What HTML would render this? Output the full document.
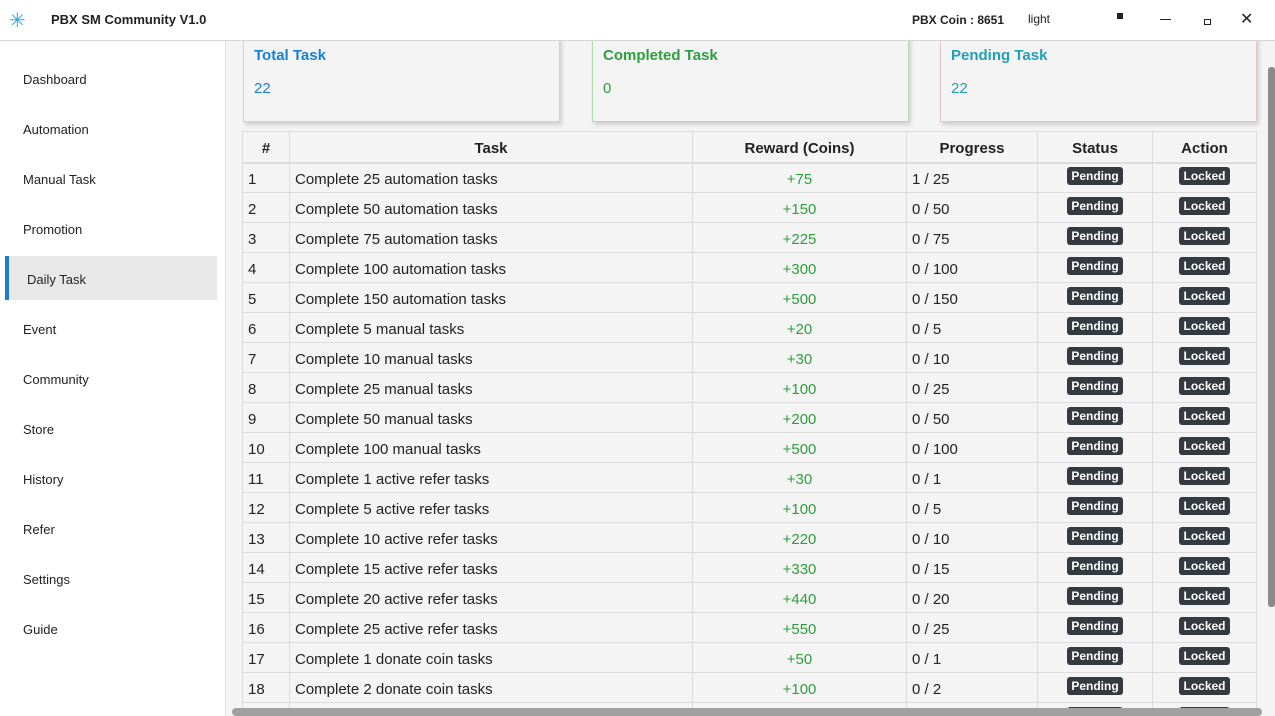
<!DOCTYPE html><html><head><style>
body{margin:0;width:1275px;height:716px;overflow:hidden;font-family:"Liberation Sans","DejaVu Sans",sans-serif;background:#fff;position:relative}
.top{position:absolute;left:0;top:0;width:1275px;height:40px;border-bottom:1px solid #d6d6d6;background:#fff}
.side{position:absolute;left:0;top:41px;width:225px;height:675px;background:#fff;border-right:1px solid #ddd}
.side div{position:absolute;left:23px;font-size:13px;color:#222}
.main{position:absolute;left:226px;top:41px;width:1049px;height:675px;background:#f4f4f4;overflow:hidden}
.card{position:absolute;top:-5px;height:84px;width:315px;background:#f4f4f4;box-shadow:2px 3px 4px rgba(0,0,0,.15)}
.card .h{position:absolute;left:10px;top:10px;font-size:15px;font-weight:bold}
.card .v{position:absolute;left:10px;top:43px;font-size:15px}
table{position:absolute;left:16px;top:90px;border-collapse:collapse;width:1015px;font-size:15px;color:#222}
td,th{border:1px solid #dcdcdc;height:30px;padding:3px 5px 0 5px;box-sizing:border-box}
th{font-weight:bold;border-bottom:2px solid #dcdcdc;height:31px}
.g{color:#2e9e3e;text-align:center}
.b{display:inline-block;background:#343a40;color:#fff;font-size:12px;font-weight:bold;padding:2px 4px;border-radius:3px;position:relative;top:-3px}
.c{text-align:center}
</style></head><body>
<div class="top">
<div style="position:absolute;left:9px;top:8px;font-size:20px;color:#3aa0e8">✳</div>
<div style="position:absolute;left:51px;top:12px;font-size:13px;font-weight:bold;color:#222">PBX SM Community V1.0</div>
<div style="position:absolute;left:912px;top:13px;font-size:12px;font-weight:bold;color:#222">PBX Coin : 8651</div>
<div style="position:absolute;left:1028px;top:12px;font-size:12px;color:#222">light</div>
<div style="position:absolute;left:1117px;top:13px;width:6px;height:6px;background:#222"></div>
<div style="position:absolute;left:1160px;top:19px;width:11px;height:1px;background:#222"></div>
<div style="position:absolute;left:1204px;top:19px;width:5px;height:4px;border:1px solid #222"></div>
<div style="position:absolute;left:1240px;top:9px;font-size:16px;color:#222">✕</div>
</div>
<div class="side">
<div style="top:31px">Dashboard</div><div style="top:81px">Automation</div><div style="top:131px">Manual Task</div><div style="top:181px">Promotion</div>
<span style="position:absolute;left:5px;top:215px;width:212px;height:44px;background:#e8e8e8;border-left:4px solid #1a7fd4;box-sizing:border-box"></span>
<div style="top:231px;left:27px">Daily Task</div><div style="top:281px">Event</div><div style="top:331px">Community</div><div style="top:381px">Store</div><div style="top:431px">History</div><div style="top:481px">Refer</div><div style="top:531px">Settings</div><div style="top:581px">Guide</div>
</div>
<div class="main">
<div class="card" style="left:17px;border:1px solid #b8dbe6"><div class="h" style="color:#1a7fd4">Total Task</div><div class="v" style="color:#1a7fd4">22</div></div>
<div class="card" style="left:366px;border:1px solid #a8e0a8"><div class="h" style="color:#2e9e3e">Completed Task</div><div class="v" style="color:#2e9e3e">0</div></div>
<div class="card" style="left:714px;border:1px solid #f0c0c8"><div class="h" style="color:#1fa0b8">Pending Task</div><div class="v" style="color:#1fa0b8">22</div></div>
<table>
<tr><th style="width:47px">#</th><th style="width:403px">Task</th><th style="width:214px">Reward (Coins)</th><th style="width:131px">Progress</th><th style="width:115px">Status</th><th>Action</th></tr>
<tbody id="tb"></tbody>
</table>
<div style="position:absolute;left:6px;top:667px;width:1030px;height:8px;background:#a0a0a0;border-radius:4px"></div>
<div style="position:absolute;left:1042px;top:26px;width:7px;height:540px;background:#8a8a8a;border-radius:3px"></div>
</div>
<script>
var d=[["Complete 25 automation tasks","+75","1 / 25"],["Complete 50 automation tasks","+150","0 / 50"],["Complete 75 automation tasks","+225","0 / 75"],["Complete 100 automation tasks","+300","0 / 100"],["Complete 150 automation tasks","+500","0 / 150"],["Complete 5 manual tasks","+20","0 / 5"],["Complete 10 manual tasks","+30","0 / 10"],["Complete 25 manual tasks","+100","0 / 25"],["Complete 50 manual tasks","+200","0 / 50"],["Complete 100 manual tasks","+500","0 / 100"],["Complete 1 active refer tasks","+30","0 / 1"],["Complete 5 active refer tasks","+100","0 / 5"],["Complete 10 active refer tasks","+220","0 / 10"],["Complete 15 active refer tasks","+330","0 / 15"],["Complete 20 active refer tasks","+440","0 / 20"],["Complete 25 active refer tasks","+550","0 / 25"],["Complete 1 donate coin tasks","+50","0 / 1"],["Complete 2 donate coin tasks","+100","0 / 2"],["Complete 5 donate coin tasks","+200","0 / 5"]];
var h="";d.forEach(function(r,i){h+='<tr><td>'+(i+1)+'</td><td>'+r[0]+'</td><td class="g">'+r[1]+'</td><td>'+r[2]+'</td><td class="c"><span class="b">Pending</span></td><td class="c"><span class="b">Locked</span></td></tr>'});
document.getElementById("tb").innerHTML=h;
</script>
</body></html>
